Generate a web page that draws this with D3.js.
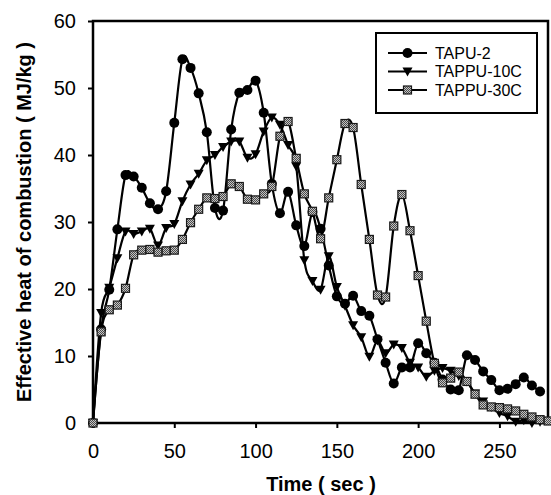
<!DOCTYPE html>
<html>
<head>
<meta charset="utf-8">
<script src="https://cdn.jsdelivr.net/npm/d3@7.9.0/dist/d3.min.js"></script>
<style>
  body { margin: 0; background: #fff; }
  svg { display: block; font-family: "Liberation Sans", Arial, sans-serif; }
</style>
</head>
<body>
<div id="chart"></div>
<script>
// time (sec), sampled every 5 s
const times = [0, 5, 10, 15, 20, 25, 30, 35, 40, 45, 50, 55, 60, 65, 70, 75, 80, 85, 90, 95,
  100, 105, 110, 115, 120, 125, 130, 135, 140, 145, 150, 155, 160, 165, 170, 175, 180, 185, 190, 195,
  200, 205, 210, 215, 220, 225, 230, 235, 240, 245, 250, 255, 260, 265, 270, 275, 280];

const tapu2 = [0, 14, 19.9, 28.9, 37, 36.8, 35.1, 32.8, 31.9, 34.6, 44.8, 54.3, 53, 49.2, 43.4, 32.1, 31.7, 43.8, 49.3, 49.7,
  51.1, 46.3, 35.7, 31.3, 34.5, 29.5, 26.4, 31.5, 29, 23.5, 18.9, 17.8, 19, 16.7, 16, 12.5, 9, 5.9, 8.3, 8.3,
  11.9, 10.4, 9, 6.5, 5, 4.9, 10.1, 9.4, 7.7, 6.4, 4.9, 5.1, 5.8, 6.8, 5.6, 4.7];

const tappu10c = [0, 16.4, 20.2, 24.6, 28.6, 28.2, 28.6, 29, 26.5, 29.1, 29.7, 33.1, 35.6, 37.2, 39.2, 40, 41.2, 42, 42, 39.6,
  40.1, 43.5, 45.6, 44.5, 41.5, 38.3, 24.3, 21.2, 19.9, 24.9, 20.3, 17.5, 14.6, 12.8, 9.9, 12.3, 10.4, 11.7, 11.2, 9,
  8.3, 6.9, 7.8, 8.2, 7.8, 7, 6.2, 4.4, 3.2, 2.4, 1.5, 1, 0.2, 0.4, 0, 0.2];

const tappu30c = [0, 13.6, 16.9, 17.6, 20.1, 25.1, 25.8, 25.9, 25.5, 25.7, 25.8, 27.4, 29.9, 31.9, 33.6, 33.5, 33.8, 35.7, 35.3, 33.4,
  33.3, 34.2, 35.3, 42.8, 45, 39.5, 34.2, 31.6, 27.5, 33.6, 39.3, 44.7, 44.1, 35.6, 27.4, 19.1, 18.8, 29.4, 34.1, 28.7,
  22, 15.2, 8.9, 6, 6.7, 7.6, 6.2, 4.3, 2.7, 2.4, 2.3, 2.1, 1.8, 1.3, 0.9, 0.5, 0.3];

const seriesNames = ['TAPU-2', 'TAPPU-10C', 'TAPPU-30C'];
const seriesValues = [tapu2, tappu10c, tappu30c];
const seriesMarkers = ['circle', 'triangle', 'square'];

const xTicks = [0, 50, 100, 150, 200, 250];
const yTicks = [0, 10, 20, 30, 40, 50, 60];

const width = 551;
const height = 495;
const margin = { top: 21, right: 2, bottom: 72, left: 93 };

const svg = d3.select('#chart')
  .append('svg')
  .attr('width', width)
  .attr('height', height);

// checkered fill for the square markers
const pat = svg.append('defs').append('pattern')
  .attr('id', 'hatch')
  .attr('width', 2)
  .attr('height', 2)
  .attr('patternUnits', 'userSpaceOnUse');
pat.append('rect').attr('width', 2).attr('height', 2).attr('fill', '#c4c4c4');
pat.append('rect').attr('width', 1).attr('height', 1).attr('fill', '#4a4a4a');
pat.append('rect').attr('x', 1).attr('y', 1).attr('width', 1).attr('height', 1).attr('fill', '#4a4a4a');

const xScale = d3.scaleLinear()
  .domain([0, 280.5])
  .range([margin.left, width - margin.right]);

const yScale = d3.scaleLinear()
  .domain([0, 60])
  .range([height - margin.bottom, margin.top]);

// axes
const xAxis = svg.append('g')
  .attr('transform', `translate(0, ${height - margin.bottom})`)
  .call(d3.axisBottom(xScale).tickValues(xTicks).tickSize(5).tickPadding(16).tickSizeOuter(0));

const yAxis = svg.append('g')
  .attr('transform', `translate(${margin.left}, 0)`)
  .call(d3.axisLeft(yScale).tickValues(yTicks).tickSize(5).tickPadding(12).tickSizeOuter(0));

[xAxis, yAxis].forEach(ax => {
  ax.select('.domain').remove();
  ax.selectAll('line').attr('stroke', '#000').attr('stroke-width', 2);
  ax.selectAll('text').attr('font-size', 20).attr('fill', '#000');
});

// frame
svg.append('rect')
  .attr('x', margin.left)
  .attr('y', margin.top)
  .attr('width', width - margin.left - margin.right - 1)
  .attr('height', height - margin.top - margin.bottom)
  .attr('fill', 'none')
  .attr('stroke', '#000')
  .attr('stroke-width', 2.5);

const line = d3.line()
  .x(d => xScale(d[0]))
  .y(d => yScale(d[1]))
  .curve(d3.curveCardinal);

function drawMarker(g, type, x, y) {
  if (type === 'circle') {
    g.append('circle').attr('cx', x).attr('cy', y).attr('r', 5).attr('fill', '#000');
  } else if (type === 'triangle') {
    g.append('path')
      .attr('d', `M${x - 5},${y - 4}L${x + 5},${y - 4}L${x},${y + 5}Z`)
      .attr('fill', '#000');
  } else {
    g.append('rect')
      .attr('x', x - 4).attr('y', y - 4)
      .attr('width', 8).attr('height', 8)
      .attr('fill', 'url(#hatch)')
      .attr('stroke', '#1a1a1a')
      .attr('stroke-width', 1.2);
  }
}

seriesValues.forEach((vals, i) => {
  const pts = vals.map((v, j) => [times[j], v]);
  const g = svg.append('g');
  g.append('path')
    .attr('d', line(pts))
    .attr('fill', 'none')
    .attr('stroke', '#000')
    .attr('stroke-width', 2.2);
  pts.forEach(p => drawMarker(g, seriesMarkers[i], xScale(p[0]), yScale(p[1])));
});

// legend
const legend = svg.append('g');
legend.append('rect')
  .attr('x', 376).attr('y', 33)
  .attr('width', 161).attr('height', 80)
  .attr('fill', '#fff')
  .attr('stroke', '#000')
  .attr('stroke-width', 2);

seriesNames.forEach((name, i) => {
  const y = 53 + i * 18.5;
  legend.append('line')
    .attr('x1', 388).attr('x2', 427)
    .attr('y1', y).attr('y2', y)
    .attr('stroke', '#000').attr('stroke-width', 2.2);
  drawMarker(legend, seriesMarkers[i], 407.5, y);
  legend.append('text')
    .attr('x', 435).attr('y', y)
    .attr('dy', '0.36em')
    .attr('font-size', 16)
    .text(name);
});

// axis titles
svg.append('text')
  .attr('x', (margin.left + width - margin.right) / 2)
  .attr('y', 491)
  .attr('text-anchor', 'middle')
  .attr('font-size', 20)
  .attr('font-weight', 'bold')
  .text('Time ( sec )');

svg.append('text')
  .attr('transform', `translate(31, ${(margin.top + height - margin.bottom) / 2}) rotate(-90)`)
  .attr('text-anchor', 'middle')
  .attr('font-size', 20)
  .attr('font-weight', 'bold')
  .text('Effective heat of combustion ( MJ/kg )');
</script>
</body>
</html>
